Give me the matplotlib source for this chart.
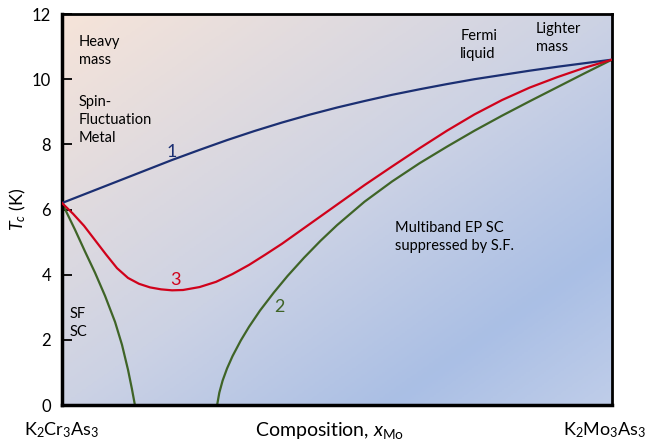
import numpy as np
import matplotlib
matplotlib.use("Agg")
import matplotlib.pyplot as plt
from matplotlib.colors import LinearSegmentedColormap

plt.rcParams['font.family'] = ['Lato', 'DejaVu Sans']
plt.rcParams['mathtext.fontset'] = 'custom'
plt.rcParams['mathtext.rm'] = 'Lato'
plt.rcParams['mathtext.it'] = 'Lato:italic'

# curve 1 (blue)
x1 = [0.0, 0.05, 0.1, 0.15, 0.2, 0.25, 0.3, 0.35, 0.4, 0.45, 0.5,
      0.55, 0.6, 0.65, 0.7, 0.75, 0.8, 0.85, 0.9, 0.95, 1.0]
t1 = [6.2, 6.53, 6.86, 7.19, 7.52, 7.83, 8.13, 8.41, 8.67, 8.91, 9.13,
      9.33, 9.52, 9.69, 9.85, 10.0, 10.13, 10.26, 10.38, 10.49, 10.6]

# curve 3 (red)
x3 = [0.0, 0.02, 0.04, 0.06, 0.08, 0.10, 0.12, 0.14, 0.16, 0.18, 0.20, 0.22,
      0.25, 0.28, 0.31, 0.34, 0.37, 0.40, 0.45, 0.50, 0.55, 0.60, 0.65, 0.70,
      0.75, 0.80, 0.85, 0.90, 0.95, 1.0]
t3 = [6.2, 5.87, 5.5, 5.06, 4.62, 4.2, 3.9, 3.72, 3.61, 3.55, 3.52, 3.53,
      3.62, 3.78, 4.02, 4.3, 4.62, 4.95, 5.55, 6.15, 6.75, 7.32, 7.88, 8.42,
      8.92, 9.36, 9.74, 10.06, 10.35, 10.6]

# curve 2 (green), left branch
x2a = [0.0, 0.0236, 0.0418, 0.06, 0.0782, 0.0964, 0.109, 0.12, 0.127, 0.1325]
t2a = [6.2, 5.38, 4.71, 4.06, 3.35, 2.55, 1.85, 1.08, 0.5, 0.0]
# curve 2, right branch
x2b = [0.282, 0.286, 0.292, 0.30, 0.31, 0.325, 0.34, 0.36, 0.385, 0.41, 0.44,
       0.47, 0.50, 0.55, 0.60, 0.65, 0.70, 0.75, 0.80, 0.85, 0.90, 0.95, 1.0]
t2b = [0.0, 0.38, 0.75, 1.12, 1.5, 1.98, 2.4, 2.9, 3.45, 3.96, 4.52,
       5.04, 5.52, 6.24, 6.86, 7.42, 7.93, 8.42, 8.88, 9.32, 9.75, 10.18, 10.6]

blue = '#1b2f72'
red = '#d0021b'
green = '#3f6427'

fig = plt.figure(figsize=(6.62, 4.41), dpi=100)
ax = fig.add_axes([0.0937, 0.0816, 0.8308, 0.8866])

# diagonal gradient background
u, v = np.meshgrid(np.linspace(0, 1, 300), np.linspace(1, 0, 200))
tt = (u + (1 - v)) / 2
cmap = LinearSegmentedColormap.from_list('bg', [(0, '#f6e4d9'), (0.5, '#ccd2e4'),
                                                 (0.8, '#aabfe5'), (1, '#bfcde9')])
ax.imshow(tt[::-1], cmap=cmap, extent=[0, 1, 0, 12], aspect='auto', origin='lower',
          zorder=0, vmin=0, vmax=1)

ax.plot(x1, t1, color=blue, lw=1.6, zorder=3)
ax.plot(x3, t3, color=red, lw=1.6, zorder=3)
ax.plot(x2a, t2a, color=green, lw=1.6, zorder=2)
ax.plot(x2b, t2b, color=green, lw=1.6, zorder=2)

ax.set_xlim(0, 1)
ax.set_ylim(0, 12)
ax.set_yticks([0, 2, 4, 6, 8, 10, 12])
ax.set_xticks([])
ax.tick_params(axis='y', direction='in', length=7, width=1.3, labelsize=12, pad=8)
for s in ax.spines.values():
    s.set_linewidth(2)
ax.spines['left'].set_linewidth(2.5)
ax.spines['bottom'].set_linewidth(2.5)

ax.text(-0.08, 0.5, '$T_c$ (K)', fontsize=13, rotation=90, ha='center', va='center',
        transform=ax.transAxes)

# curve labels
ax.text(0.2, 7.75, '1', color=blue, fontsize=13, ha='center', va='center')
ax.text(0.207, 3.85, '3', color=red, fontsize=13, ha='center', va='center')
ax.text(0.396, 3.0, '2', color=green, fontsize=13, ha='center', va='center')

# region labels
fs = 10.5
ax.text(0.03, 11.35, 'Heavy\nmass', fontsize=fs, va='top', linespacing=1.35)
ax.text(0.03, 9.5, 'Spin-\nFluctuation\nMetal', fontsize=fs, va='top', linespacing=1.35)
ax.text(0.724, 11.55, 'Fermi\nliquid', fontsize=fs, va='top', linespacing=1.35)
ax.text(0.862, 11.75, 'Lighter\nmass', fontsize=fs, va='top', linespacing=1.35)
ax.text(0.605, 5.65, 'Multiband EP SC\nsuppressed by S.F.', fontsize=fs, va='top', linespacing=1.35)
ax.text(0.013, 3.0, 'SF\nSC', fontsize=fs, va='top', linespacing=1.35)

# bottom labels
ax.text(0.0, -0.064, 'K$_2$Cr$_3$As$_3$', fontsize=13, ha='center', va='center', transform=ax.transAxes)
ax.text(0.987, -0.064, 'K$_2$Mo$_3$As$_3$', fontsize=13, ha='center', va='center', transform=ax.transAxes)
ax.text(0.487, -0.064, 'Composition, $x_{\\rm Mo}$', fontsize=14, ha='center', va='center',
        transform=ax.transAxes)

fig.savefig('out.png', dpi=100)
